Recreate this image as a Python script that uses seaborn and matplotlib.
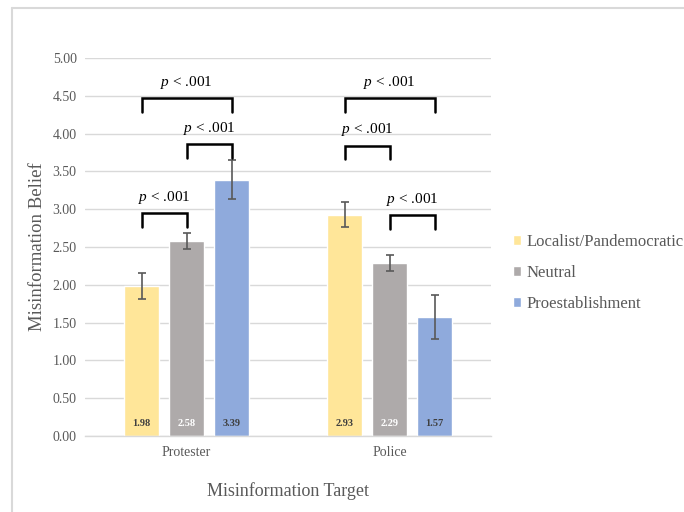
import matplotlib
matplotlib.use("Agg")
import matplotlib.pyplot as plt
from matplotlib.lines import Line2D
from matplotlib.container import BarContainer
import seaborn as sns
import pandas as pd

# Data
targets = ["Protester", "Police"]
groups = ["Localist/Pandemocratic", "Neutral", "Proestablishment"]
means_protester = [1.98, 2.58, 3.39]
means_police = [2.93, 2.29, 1.57]
err_protester = [0.17, 0.11, 0.26]
err_police = [0.17, 0.11, 0.29]
yticks = [0.0, 0.5, 1.0, 1.5, 2.0, 2.5, 3.0, 3.5, 4.0, 4.5, 5.0]

# Significance brackets: (target index, group a, group b, bracket height)
brackets = [
    (0, 0, 1, 2.95),
    (0, 1, 2, 3.86),
    (0, 0, 2, 4.47),
    (1, 0, 1, 3.84),
    (1, 1, 2, 2.92),
    (1, 0, 2, 4.47),
]

palette = ["#FFE699", "#AEAAAA", "#8FAADC"]
label_colors = ["#3F3F3F", "#FFFFFF", "#3F3F3F"]
text_gray = "#595959"
grid_gray = "#D9D9D9"
serif = ["Liberation Serif", "DejaVu Serif"]

df = pd.DataFrame({
    "target": [t for t in targets for _ in groups],
    "group": groups * len(targets),
    "mean": means_protester + means_police,
    "err": err_protester + err_police,
})

sns.set_style("white")
plt.rcParams["font.family"] = serif
plt.rcParams["mathtext.fontset"] = "custom"
plt.rcParams["mathtext.rm"] = "Liberation Serif"
plt.rcParams["mathtext.it"] = "Liberation Serif:italic"

fig = plt.figure(figsize=(6.84, 5.12), dpi=100)
ax = fig.add_axes([0.1243, 0.1484, 0.594, 0.7383])

sns.barplot(data=df, x="target", y="mean", hue="group", order=targets,
            hue_order=groups, palette=palette, width=0.665, gap=0.22,
            errorbar=None, saturation=1, ax=ax, legend=True, zorder=2)

# error bars, value labels and bar centres
bar_containers = [c for c in ax.containers if isinstance(c, BarContainer)]
centres = {}
for gi, container in enumerate(bar_containers):
    for ti, bar in enumerate(container.patches):
        cx = bar.get_x() + bar.get_width() / 2
        h = bar.get_height()
        centres[(ti, gi)] = cx
        e = df[(df.target == targets[ti]) & (df.group == groups[gi])]["err"].iloc[0]
        ax.errorbar(cx, h, yerr=e, fmt="none", ecolor=text_gray,
                    elinewidth=1.2, capsize=2.6, capthick=1.2, zorder=3)
        ax.text(cx, 0.16, f"{h:.2f}", ha="center", va="center",
                fontsize=7.5, fontweight="bold", color=label_colors[gi],
                zorder=4)

# significance brackets
for ti, a, b, y in brackets:
    x0, x1 = centres[(ti, a)], centres[(ti, b)]
    ax.plot([x0, x0, x1, x1], [y - 0.18, y, y, y - 0.18], color="black",
            lw=1.8, solid_joinstyle="miter", zorder=4, clip_on=False)
    ax.text((x0 + x1) / 2, y + 0.21, r"$\mathit{p}$ < .001", ha="center",
            va="center", fontsize=11, color="black")

ax.set_ylim(0, 5)
ax.set_xlim(-0.5, 1.5)
ax.set_yticks(yticks)
ax.set_yticklabels([f"{v:.2f}" for v in yticks])
ax.yaxis.grid(True, color=grid_gray, lw=1, zorder=0)
ax.set_axisbelow(True)
for s in ["left", "right", "top"]:
    ax.spines[s].set_visible(False)
ax.spines["bottom"].set_color(grid_gray)
ax.spines["bottom"].set_linewidth(1)
ax.tick_params(axis="both", length=0, labelsize=10, colors=text_gray)
ax.tick_params(axis="y", pad=6)
ax.tick_params(axis="x", pad=7)

ax.set_xlabel("Misinformation Target", fontsize=13, color=text_gray, labelpad=17)
ax.set_ylabel("Misinformation Belief", fontsize=13.5, color=text_gray, labelpad=5)

leg = ax.legend(loc="center left", bbox_to_anchor=(1.0, 0.432), frameon=False,
                fontsize=12, handlelength=0.5, handleheight=0.6,
                handletextpad=0.3, labelspacing=0.9, borderaxespad=0.9)
for t in leg.get_texts():
    t.set_color(text_gray)

# frame lines along the top and left edge
fig.add_artist(Line2D([12 / 684, 12 / 684], [0, 1 - 8 / 512],
                      transform=fig.transFigure, color=grid_gray, lw=1.5))
fig.add_artist(Line2D([12 / 684, 1], [1 - 8 / 512, 1 - 8 / 512],
                      transform=fig.transFigure, color=grid_gray, lw=1.5))

fig.savefig("out.png", dpi=100, facecolor="white")
